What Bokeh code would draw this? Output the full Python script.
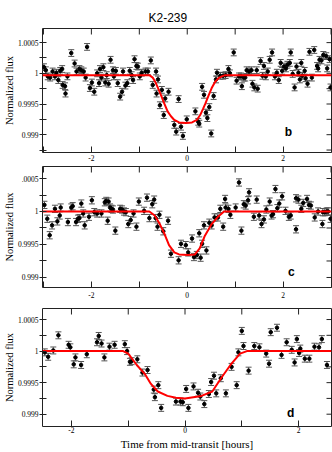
import math
from bokeh.plotting import figure
from bokeh.layouts import column
from bokeh.models import (ColumnDataSource, Whisker, TeeHead, FixedTicker, Label,
                          Range1d, NumeralTickFormatter, Title)
from bokeh.embed import file_html
from bokeh.resources import INLINE

# ---------------- data ----------------
TITLE = "K2-239"
Y_LABEL = "Normalized flux"
X_LABEL = "Time from mid-transit [hours]"
letters = ["b", "c", "d"]

x_major = [-2, 0, 2]
x_minor = [-3, -1, 1, 3]
x_tick_labels = {-2: "-2", 0: "0", 2: "2"}
y_major = [0.999, 0.9995, 1.0, 1.0005]
y_minor = [0.99875, 0.99925, 0.99975, 1.00025, 1.00075]
y_tick_labels_c = {1.0005: ".0005"}

flux_err = 0.000055

b_time = [-2.99, -2.95, -2.91, -2.86, -2.81, -2.76, -2.73, -2.69, -2.65, -2.61,
          -2.60, -2.55, -2.54, -2.50, -2.42, -2.35, -2.31, -2.25, -2.21, -2.16,
          -2.12, -2.09, -2.03, -1.99, -1.94, -1.88, -1.84, -1.82, -1.79, -1.75,
          -1.71, -1.68, -1.64, -1.60, -1.55, -1.53, -1.49, -1.45, -1.40, -1.36,
          -1.34, -1.29, -1.25, -1.20, -1.16, -1.13, -1.10, -1.06, -1.03, -0.99,
          -0.95, -0.87, -0.82, -0.76, -0.72, -0.65, -0.64, -0.61, -0.57, -0.53,
          -0.49, -0.46, -0.39, -0.27, -0.23, -0.18, -0.13, -0.09, -0.01,
          0.17, 0.23, 0.25, 0.31, 0.35, 0.39, 0.42, 0.46, 0.50, 0.55,
          0.60, 0.62, 0.69, 0.75, 0.80, 0.86, 0.89, 0.97, 1.03, 1.08,
          1.12, 1.14, 1.18, 1.21, 1.24, 1.29, 1.34, 1.36, 1.40, 1.45,
          1.47, 1.53, 1.57, 1.60, 1.64, 1.68, 1.72, 1.77, 1.83, 1.87,
          1.91, 1.95, 1.98, 2.02, 2.06, 2.09, 2.14, 2.16, 2.20, 2.24,
          2.28, 2.32, 2.35, 2.38, 2.40, 2.45, 2.47, 2.51, 2.55, 2.60,
          2.65, 2.71, 2.73, 2.76, 2.80, 2.84, 2.90, 2.92, 2.97, 2.99]
b_flux = [1.00010, 1.00005, 0.99995, 0.99993, 1.00003, 0.99995, 1.00001, 0.99989, 1.00004, 1.00007,
          0.99981, 0.99979, 0.99967, 0.99995, 1.00033, 1.00016, 1.00003, 1.00007, 1.00005, 1.00003,
          0.99993, 1.00043, 0.99976, 0.99985, 0.99970, 1.00000, 0.99984, 1.00007, 0.99993, 1.00010,
          0.99985, 0.99997, 0.99983, 1.00022, 1.00005, 0.99995, 1.00004, 0.99984, 0.99962, 0.99970,
          1.00003, 0.99980, 0.99984, 1.00004, 0.99997, 0.99989, 1.00023, 1.00012, 1.00011, 0.99995,
          1.00001, 1.00003, 1.00003, 1.00021, 0.99981, 1.00003, 0.99967, 0.99990, 0.99948, 0.99973,
          0.99932, 0.99959, 0.99970, 0.99916, 0.99905, 0.99958, 0.99913, 0.99898, 0.99925,
          0.99938, 0.99921, 0.99918, 0.99978, 0.99965, 0.99936, 0.99927, 0.99945, 0.99902, 0.99963,
          0.99990, 1.00001, 0.99996, 0.99996, 0.99997, 1.00007, 1.00000, 1.00034, 0.99988, 0.99995,
          0.99995, 0.99979, 0.99993, 0.99993, 1.00005, 1.00003, 1.00005, 0.99983, 0.99977, 1.00005,
          0.99975, 1.00020, 0.99996, 1.00012, 0.99995, 1.00003, 1.00022, 1.00034, 0.99995, 1.00001,
          0.99989, 1.00017, 1.00004, 1.00011, 1.00008, 1.00014, 1.00017, 1.00034, 0.99999, 0.99977,
          1.00011, 1.00001, 0.99990, 1.00017, 0.99996, 1.00004, 0.99992, 0.99983, 1.00035, 0.99993,
          1.00038, 1.00012, 1.00008, 1.00022, 1.00021, 1.00030, 1.00028, 1.00008, 1.00023, 0.99977]
b_model_time = [-3.02, -0.79, -0.72, -0.68, -0.62, -0.55, -0.48, -0.41, -0.34, -0.27, -0.17, -0.03,
                0.10, 0.20, 0.27, 0.33, 0.38, 0.44, 0.51, 0.58, 0.65, 0.72, 0.79, 3.01]
b_model_flux = [0.99997, 0.99997, 0.99993, 0.99988, 0.99978, 0.99965, 0.99951, 0.99938, 0.99930,
                0.99924, 0.99920, 0.99919, 0.99920, 0.99924, 0.99932, 0.99942, 0.99951, 0.99963,
                0.99976, 0.99986, 0.99992, 0.99995, 0.99997, 0.99997]

c_time = [-2.98, -2.92, -2.87, -2.82, -2.76, -2.71, -2.66, -2.64, -2.49, -2.42,
          -2.39, -2.32, -2.28, -2.25, -2.21, -2.17, -2.14, -2.05, -1.99, -1.94,
          -1.88, -1.79, -1.72, -1.69, -1.66, -1.64, -1.61, -1.58, -1.55, -1.50,
          -1.40, -1.36, -1.32, -1.28, -1.23, -1.18, -1.12, -1.06, -1.01, -0.90,
          -0.84, -0.79, -0.73, -0.69, -0.66, -0.62, -0.58, -0.50, -0.40, -0.34,
          -0.18, -0.13, -0.03, 0.02,
          0.10, 0.14, 0.20, 0.25, 0.28, 0.31, 0.35, 0.40, 0.46, 0.51,
          0.57, 0.64, 0.69, 0.75, 0.79, 0.80, 0.86, 0.90, 1.01, 1.08,
          1.13, 1.18, 1.22, 1.27, 1.29, 1.39, 1.45, 1.50, 1.55, 1.60,
          1.65, 1.72, 1.76, 1.79, 1.84, 1.88, 1.92, 1.98, 2.05, 2.12,
          2.16, 2.27, 2.27, 2.32, 2.38, 2.42, 2.50, 2.54, 2.58, 2.66,
          2.73, 2.82, 2.83, 2.87, 2.91, 2.94, 2.99]
c_flux = [1.00010, 0.99989, 0.99964, 0.99979, 1.00004, 0.99985, 0.99994, 1.00006, 0.99984, 1.00006,
          1.00008, 0.99984, 0.99989, 0.99990, 1.00012, 0.99997, 0.99979, 0.99992, 1.00017, 0.99999,
          0.99997, 0.99997, 1.00014, 1.00016, 0.99986, 1.00015, 1.00006, 1.00004, 1.00003, 0.99971,
          1.00004, 1.00003, 1.00000, 0.99999, 0.99981, 0.99987, 0.99997, 0.99977, 1.00015, 1.00001,
          1.00021, 0.99990, 1.00011, 1.00018, 0.99990, 0.99977, 0.99995, 0.99970, 0.99986, 0.99936,
          0.99926, 0.99951, 0.99949, 0.99938,
          0.99959, 0.99931, 0.99934, 0.99967, 0.99930, 0.99951, 0.99979, 0.99941, 0.99983, 0.99979,
          0.99991, 0.99991, 1.00004, 0.99977, 1.00019, 1.00006, 1.00004, 0.99995, 1.00006, 1.00044,
          0.99971, 1.00011, 1.00009, 1.00017, 1.00029, 0.99992, 1.00018, 0.99994, 0.99981, 0.99988,
          1.00003, 1.00015, 0.99994, 0.99996, 1.00034, 1.00005, 1.00012, 1.00023, 1.00001, 0.99992,
          0.99994, 0.99973, 1.00020, 1.00018, 1.00004, 1.00013, 1.00019, 1.00010, 1.00009, 0.99991,
          1.00000, 0.99981, 0.99999, 0.99999, 1.00000, 1.00000, 0.99989]
c_model_time = [-3.02, -0.79, -0.68, -0.58, -0.48, -0.38, -0.27, -0.17, 0.02, 0.16, 0.26, 0.36,
                0.50, 0.64, 0.77, 3.01]
c_model_flux = [1.0, 1.0, 0.99994, 0.99982, 0.99967, 0.99949, 0.99938, 0.99935, 0.99934,
                0.99935, 0.99944, 0.99962, 0.99980, 0.99992, 1.0, 1.0]

d_time = [-2.47, -2.41, -2.32, -2.23, -2.05, -2.02, -1.96, -1.93, -1.83, -1.73,
          -1.55, -1.52, -1.47, -1.42, -1.33, -1.24, -1.06, -1.02, -0.97, -0.94,
          -0.84, -0.75, -0.66, -0.55, -0.53, -0.47, -0.42, -0.16, -0.08, -0.04,
          0.02, 0.06,
          0.15, 0.23, 0.27, 0.34, 0.42, 0.46, 0.51, 0.55, 0.63, 0.72,
          0.82, 0.91, 0.94, 1.00, 1.03, 1.12, 1.22, 1.31, 1.43, 1.48,
          1.51, 1.62, 1.70, 1.79, 1.88, 1.93, 1.97, 2.01, 2.03, 2.11,
          2.19, 2.28, 2.36, 2.41, 2.50]
d_flux = [0.99998, 0.99991, 1.00001, 1.00025, 1.00010, 1.00006, 0.99979, 0.99990, 0.99978, 0.99995,
          1.00014, 1.00024, 1.00012, 0.99990, 1.00007, 1.00010, 1.00011, 1.00000, 0.99983, 0.99984,
          0.99987, 0.99966, 0.99970, 0.99939, 0.99927, 0.99946, 0.99910, 0.99920, 0.99920, 0.99919,
          0.99940, 0.99910,
          0.99944, 0.99934, 0.99928, 0.99916, 0.99932, 0.99951, 0.99961, 0.99933, 0.99957, 0.99933,
          0.99975, 0.99946, 0.99998, 1.00032, 1.00008, 0.99969, 1.00008, 1.00006, 0.99996, 0.99980,
          1.00030, 1.00037, 0.99994, 1.00014, 1.00002, 0.99982, 1.00019, 0.99997, 1.00004, 0.99988,
          0.99988, 1.00007, 1.00006, 1.00019, 0.99978]
d_model_time = [-2.51, -1.09, -1.0, -0.85, -0.71, -0.60, -0.48, -0.31, -0.16, 0.0, 0.29, 0.48,
                0.65, 0.80, 0.97, 1.09, 2.58]
d_model_flux = [1.0, 1.0, 0.99996, 0.99978, 0.99964, 0.99948, 0.99936, 0.99929, 0.99926,
                0.99925, 0.99929, 0.99936, 0.99959, 0.99978, 0.99996, 1.0, 1.0]

# ---------------- styling / layout ----------------
W = 332
BL, BR = 37, 1
INK = "#222222"
SERIF = "Liberation Serif"
SANS = "Liberation Sans"


def panel(t, f, mt, mf, xr, yr, height, btop, bbottom, letter, letter_x, letter_y,
          label_standoff, yoverrides=None, xlabel=None, title=None):
    p = figure(width=W, height=height, x_range=Range1d(*xr), y_range=Range1d(*yr),
               output_backend="svg", toolbar_location=None, tools="", title=None,
               min_border_left=BL, min_border_right=BR,
               min_border_top=btop, min_border_bottom=bbottom)
    if title:
        p.title = Title(text=title, align="left", offset=106, standoff=7,
                        text_font=SANS, text_font_size="12px", text_font_style="normal",
                        text_color="black", vertical_align="bottom")
    p.xgrid.visible = False
    p.ygrid.visible = False
    p.outline_line_color = INK
    p.outline_line_width = 1
    p.background_fill_color = "white"
    p.border_fill_color = "white"

    xt = FixedTicker(ticks=x_major, minor_ticks=x_minor)
    yt = FixedTicker(ticks=y_major, minor_ticks=y_minor)

    xa = p.xaxis[0]
    xa.ticker = xt
    xa.major_label_overrides = x_tick_labels
    xa.axis_line_color = None
    xa.major_tick_in, xa.major_tick_out = 6, 0
    xa.minor_tick_in, xa.minor_tick_out = 6, 0
    xa.major_tick_line_color = INK
    xa.minor_tick_line_color = INK
    xa.major_label_standoff = label_standoff
    xa.major_label_text_font = SERIF
    xa.major_label_text_font_size = "7.5px"
    xa.major_label_text_color = "black"
    if xlabel:
        xa.axis_label = xlabel
        xa.axis_label_text_font = SERIF
        xa.axis_label_text_font_size = "11px"
        xa.axis_label_text_font_style = "normal"
        xa.axis_label_standoff = 2
        xa.axis_label_text_color = "black"

    ya = p.yaxis[0]
    ya.ticker = yt
    ya.formatter = NumeralTickFormatter(format="0.[0000]")
    if yoverrides:
        ya.major_label_overrides = yoverrides
    ya.axis_line_color = None
    ya.major_tick_in, ya.major_tick_out = 4, 3
    ya.minor_tick_in, ya.minor_tick_out = 4, 3
    ya.major_tick_line_color = INK
    ya.minor_tick_line_color = INK
    ya.major_label_standoff = 1
    ya.major_label_text_font = SERIF
    ya.major_label_text_font_size = "7.5px"
    ya.major_label_text_color = "black"
    ya.axis_label = Y_LABEL
    ya.axis_label_text_font = SERIF
    ya.axis_label_text_font_size = "10.5px"
    ya.axis_label_text_font_style = "normal"
    ya.axis_label_standoff = 0
    ya.axis_label_text_color = "black"

    # inward tick marks on the top and right edges of the frame
    xt_all = x_major + x_minor
    yt_all = y_major + y_minor
    p.ray(x=xt_all, y=[yr[1]] * len(xt_all), length=6, length_units="screen",
          angle=-math.pi / 2, line_color=INK, line_width=1)
    p.ray(x=[xr[1]] * len(yt_all), y=yt_all, length=5, length_units="screen",
          angle=math.pi, line_color=INK, line_width=1)

    lo = [v - flux_err for v in f]
    hi = [v + flux_err for v in f]
    src = ColumnDataSource(dict(t=t, f=f, lo=lo, hi=hi))
    w = Whisker(base="t", lower="lo", upper="hi", dimension="height", source=src,
                line_color="#555555", line_width=1,
                upper_head=TeeHead(size=6, line_color="#555555", line_width=1),
                lower_head=TeeHead(size=6, line_color="#555555", line_width=1))
    p.add_layout(w)
    p.scatter("t", "f", source=src, size=3.5, color="black")
    p.line(mt, mf, line_color="#ff0000", line_width=2)

    p.add_layout(Label(x=letter_x, y=letter_y, text=letter, text_font=SANS,
                       text_font_style="bold", text_font_size="12px", text_color="black",
                       text_align="center", text_baseline="alphabetic"))
    return p


p1 = panel(b_time, b_flux, b_model_time, b_model_flux, (-3.02, 3.01), (0.99871, 1.00073),
           164, 28, 12, letters[0], 2.11, 0.99905, 2, title=TITLE)
p2 = panel(c_time, c_flux, c_model_time, c_model_flux, (-3.02, 3.01), (0.998848, 1.000682),
           136, 2, 13, letters[1], 2.17, 0.99909, 4, yoverrides=y_tick_labels_c)
p3 = panel(d_time, d_flux, d_model_time, d_model_flux, (-2.51, 2.58), (0.998805, 1.000675),
           152, 8, 23, letters[2], 1.86, 0.99902, 0, xlabel=X_LABEL)

layout = column(p1, p2, p3, spacing=0)
open("out.html", "w").write(file_html(layout, INLINE))
